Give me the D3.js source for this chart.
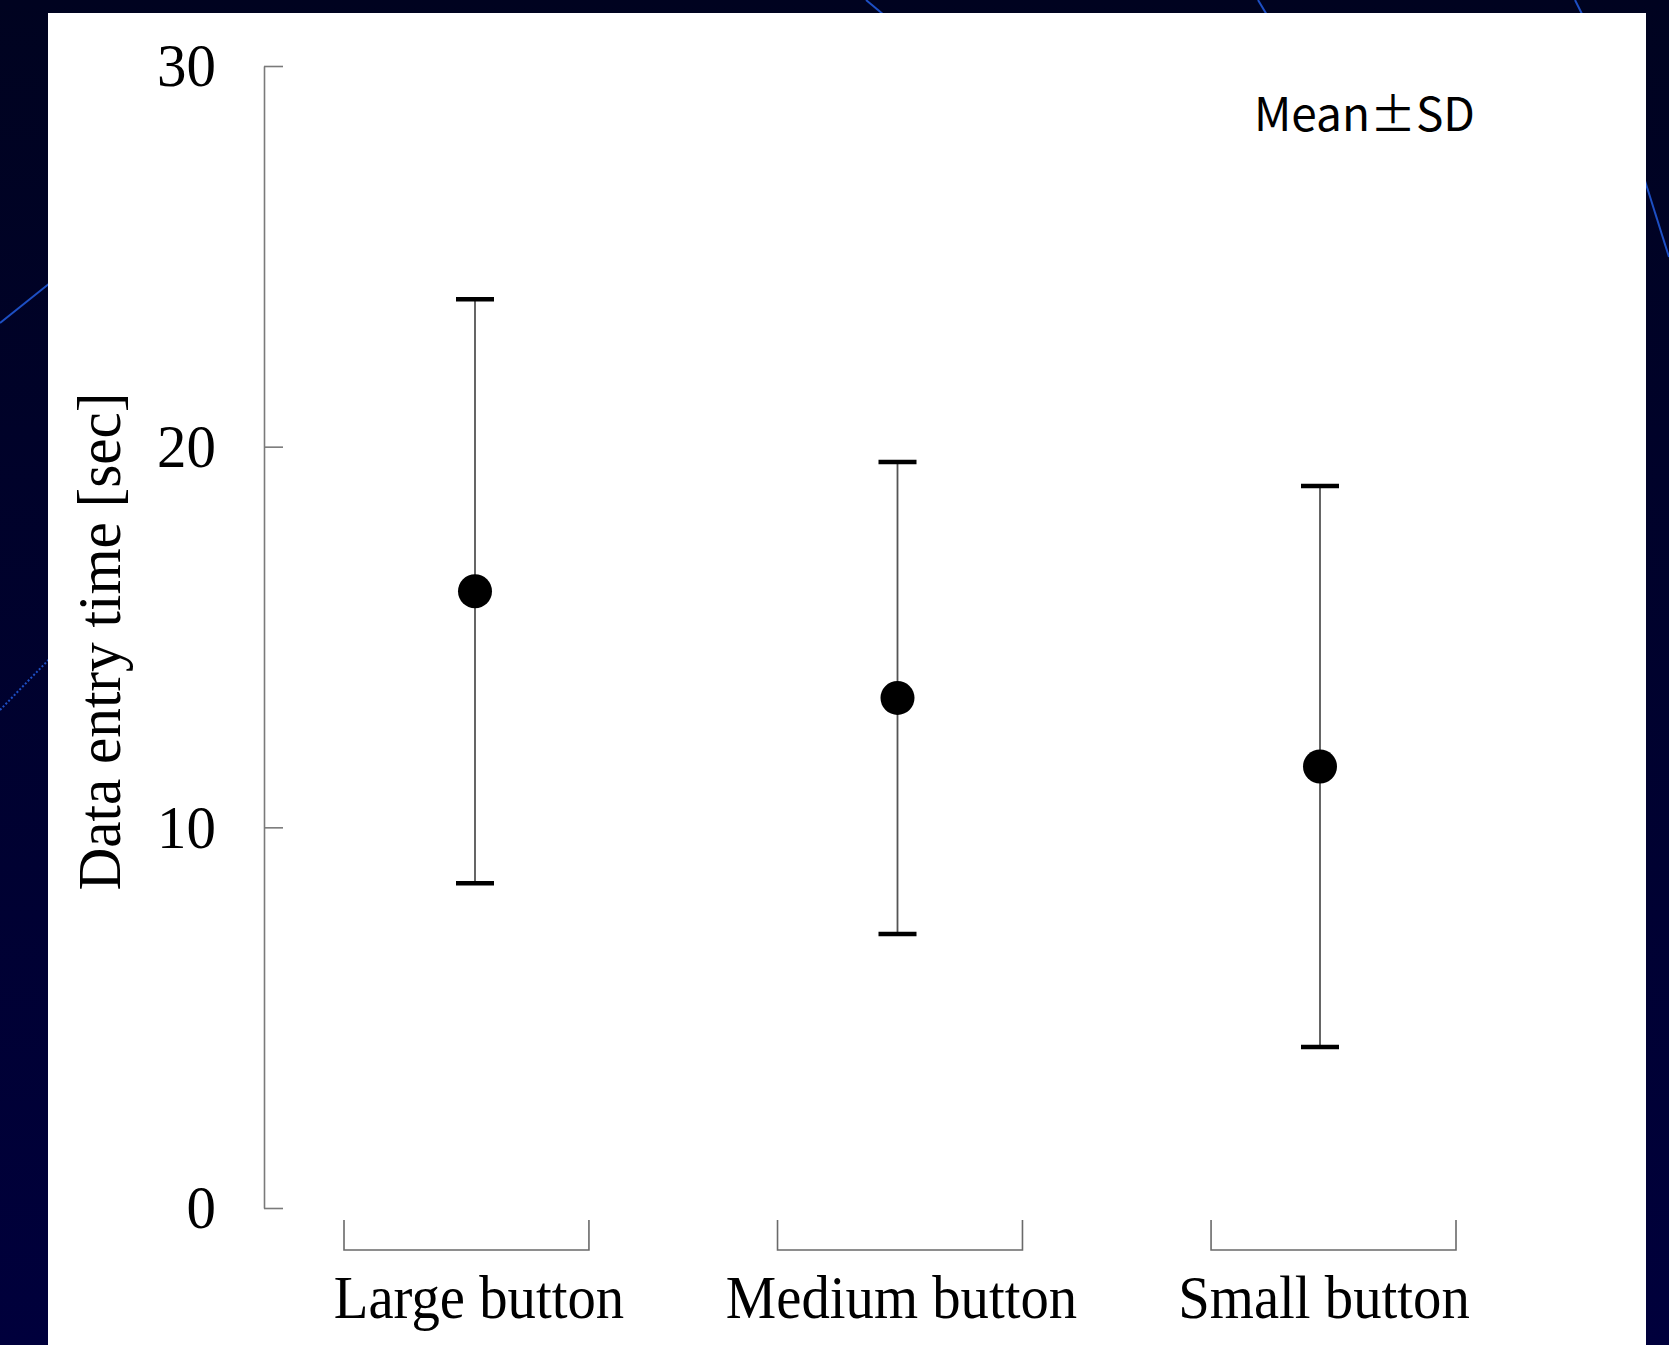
<!DOCTYPE html>
<html>
<head>
<meta charset="utf-8">
<script src="https://cdn.jsdelivr.net/npm/d3@7/dist/d3.min.js"></script>
<style>
body {
  margin: 0px;
  overflow: hidden;
  background: #000420;
}
text {
  font-family: "Liberation Serif", "Times New Roman", serif;
  fill: #000;
}
.note {
  font-family: "Noto Sans CJK JP", "DejaVu Sans", sans-serif;
}
</style>
</head>
<body>
<svg width="1669" height="1345"></svg>
<script>
// values
const categories = ['Large button', 'Medium button', 'Small button'];
const means = [16.2, 13.4, 11.6];
const sds = [7.67, 6.2, 7.37];
const yTicks = [0, 10, 20, 30];
const yLabel = 'Data entry time [sec]';
const note = 'Mean\u00b1SD';

const data = categories.map((c, i) => ({ cat: c, mean: means[i], sd: sds[i] }));

const svg = d3.select('svg');
const width = +svg.attr('width');
const height = +svg.attr('height');

// slide background
const defs = svg.append('defs');
const grad = defs.append('linearGradient')
  .attr('id', 'bg').attr('x1', 0).attr('y1', 0).attr('x2', 0).attr('y2', 1);
grad.append('stop').attr('offset', '0%').attr('stop-color', '#000320');
grad.append('stop').attr('offset', '100%').attr('stop-color', '#00003c');
svg.append('rect').attr('width', width).attr('height', height).attr('fill', 'url(#bg)');

const deco = [
  [0, 323, 60, 275, 1],
  [0, 710, 60, 648, 0.5],
  [866, 0, 890, 20, 1],
  [1258, 0, 1270, 20, 1],
  [1575, 0, 1585, 20, 1],
  [1640, 165, 1669, 257, 1]
];
svg.selectAll('.deco').data(deco).enter().append('line')
  .attr('class', 'deco')
  .attr('x1', d => d[0]).attr('y1', d => d[1])
  .attr('x2', d => d[2]).attr('y2', d => d[3])
  .attr('stroke', '#1d4fc4')
  .attr('stroke-width', 2)
  .attr('stroke-dasharray', d => d[4] < 1 ? '2,2' : null);

// white chart panel
svg.append('rect')
  .attr('x', 48).attr('y', 13)
  .attr('width', 1598).attr('height', height - 13)
  .attr('fill', '#fff');

const yScale = d3.scaleLinear().domain([0, 30]).range([1208, 66]);

const xBand = d3.scaleBand()
  .domain(categories)
  .range([344, 1456])
  .paddingInner(0.435)
  .paddingOuter(0);

const xPoint = d3.scalePoint()
  .domain(categories)
  .range([475, 1320]);

// shrink text horizontally, like the original narrow glyphs
const squeeze = (sel, f) => sel.each(function () {
  const len = this.getComputedTextLength();
  d3.select(this).attr('textLength', len * f).attr('lengthAdjust', 'spacingAndGlyphs');
});

// y axis
const yAxis = d3.axisLeft(yScale)
  .tickValues(yTicks)
  .tickSizeInner(-19)
  .tickSizeOuter(0)
  .tickPadding(48);

const yAxisG = svg.append('g')
  .attr('transform', 'translate(264,0)')
  .call(yAxis);
yAxisG.select('.domain').attr('stroke', '#7a7a7a').attr('stroke-width', 1.6);
yAxisG.selectAll('.tick line').attr('stroke', '#7a7a7a').attr('stroke-width', 1.6);
yAxisG.selectAll('.tick text')
  .attr('font-family', '"Liberation Serif", "Times New Roman", serif')
  .attr('font-size', 62)
  .attr('fill', '#000')
  .call(squeeze, 0.95);

svg.append('text')
  .attr('transform', `translate(120,${(396 + 887) / 2}) rotate(-90)`)
  .attr('text-anchor', 'middle')
  .attr('font-size', 62)
  .text(yLabel)
  .call(squeeze, 0.955);

// category brackets
svg.selectAll('.bracket').data(categories).enter().append('path')
  .attr('class', 'bracket')
  .attr('d', d => `M${xBand(d)},1220V1250H${xBand(d) + xBand.bandwidth()}V1220`)
  .attr('fill', 'none')
  .attr('stroke', '#6a6a6a')
  .attr('stroke-width', 1.6);

svg.selectAll('.xlabel').data(categories).enter().append('text')
  .attr('class', 'xlabel')
  .attr('x', d => xPoint(d) + 4)
  .attr('y', 1318)
  .attr('text-anchor', 'middle')
  .attr('font-size', 61)
  .text(d => d)
  .call(squeeze, 0.93);

// error bars
const bars = svg.selectAll('.bar').data(data).enter().append('g').attr('class', 'bar');
bars.append('line')
  .attr('x1', d => xPoint(d.cat)).attr('x2', d => xPoint(d.cat))
  .attr('y1', d => yScale(d.mean + d.sd)).attr('y2', d => yScale(d.mean - d.sd))
  .attr('stroke', '#555').attr('stroke-width', 1.8);
[1, -1].forEach(s => {
  bars.append('line')
    .attr('x1', d => xPoint(d.cat) - 19).attr('x2', d => xPoint(d.cat) + 19)
    .attr('y1', d => yScale(d.mean + s * d.sd)).attr('y2', d => yScale(d.mean + s * d.sd))
    .attr('stroke', '#000').attr('stroke-width', 4.5);
});
bars.append('circle')
  .attr('cx', d => xPoint(d.cat))
  .attr('cy', d => yScale(d.mean))
  .attr('r', 17)
  .attr('fill', '#000');

// note
svg.append('text')
  .attr('class', 'note')
  .attr('x', 1254).attr('y', 131)
  .attr('font-size', 46)
  .attr('textLength', 221)
  .attr('lengthAdjust', 'spacingAndGlyphs')
  .text(note);
</script>
</body>
</html>
